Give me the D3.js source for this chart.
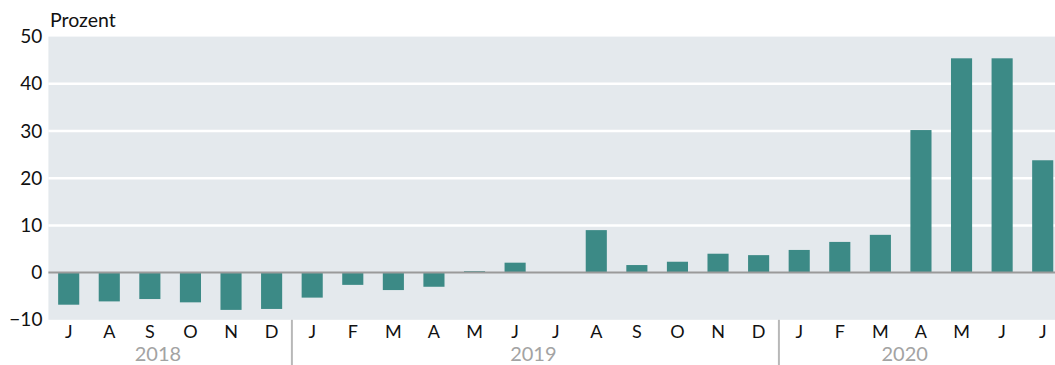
<!DOCTYPE html>
<html><head><meta charset="utf-8">
<script src="https://cdn.jsdelivr.net/npm/d3@7"></script>
<style>body{margin:0;background:#fff}svg{display:block;font-family:Lato,sans-serif}</style>
</head><body><svg id="c" width="1055" height="365"></svg>
<script>
const months = ["J","A","S","O","N","D","J","F","M","A","M","J","J","A","S","O","N","D","J","F","M","A","M","J","J"];
const values = [-6.8,-6.1,-5.6,-6.3,-7.9,-7.7,-5.3,-2.6,-3.7,-3.0,0.3,2.1,0,9.0,1.6,2.3,4.0,3.7,4.8,6.5,8.0,30.2,45.4,45.4,23.8];
const yearLabels = ["2018","2019","2020"];
const yearStarts = [0,6,18];
const yearLabelAt = [2.2,11.45,20.6];
const yTicks = [-10,0,10,20,30,40,50];

const svg = d3.select("#c");
const W = 1055;
const FONT = "Lato,sans-serif";
const idx = d3.range(months.length);
const x = d3.scaleBand().domain(idx).range([48.4,1063]).paddingInner(0.48).paddingOuter(0.24);
const y = d3.scaleLinear().domain([-10,50]).range([319.8,36.6]);
const xc = d3.scaleLinear().domain([0,1]).range([x(0)+x.bandwidth()/2, x(1)+x.bandwidth()/2]);

svg.append("rect").attr("x",48.4).attr("y",y(50)).attr("width",W-48.4).attr("height",y(-10)-y(50)).attr("fill","#e4e9ed");

svg.append("g").selectAll("line").data(yTicks.filter(d=>d>-10&&d<50&&d!==0)).join("line")
  .attr("x1",48.4).attr("x2",W).attr("y1",d=>y(d)).attr("y2",d=>y(d))
  .attr("stroke","#fff").attr("stroke-width",2.5);

svg.append("g").selectAll("rect").data(idx).join("rect")
  .attr("x",i=>x(i)).attr("width",x.bandwidth())
  .attr("y",i=>y(Math.max(0,values[i]))).attr("height",i=>Math.abs(y(values[i])-y(0)))
  .attr("fill","#3c8a86");

svg.append("line").attr("x1",48.4).attr("x2",W).attr("y1",y(0)).attr("y2",y(0)).attr("stroke","#9a9a9a").attr("stroke-width",2);

const yAxis = d3.axisLeft(y).tickValues(yTicks).tickSize(0).tickPadding(6).tickFormat(d=>d<0?"\u2212"+Math.abs(d):d);
const ga = svg.append("g").attr("transform","translate(48.4,0)").call(yAxis);
ga.select(".domain").remove();
ga.selectAll("text").attr("font-size",19).attr("fill","#111").attr("font-family",FONT);

const xAxis = d3.axisBottom(x).tickSize(0).tickPadding(5).tickFormat(i=>months[i]);
const gx = svg.append("g").attr("transform",`translate(0,${y(-10)})`).call(xAxis);
gx.select(".domain").remove();
gx.selectAll("text").attr("font-size",18).attr("fill","#111").attr("font-family",FONT);

const step = x.step();
const bx = i => x(i) - x.paddingInner()*step/2;
svg.append("g").selectAll("line").data(yearStarts.slice(1)).join("line")
  .attr("x1",d=>bx(d)).attr("x2",d=>bx(d)).attr("y1",y(-10)).attr("y2",365)
  .attr("stroke","#b8b8b8").attr("stroke-width",2);

svg.append("g").selectAll("text").data(yearLabels).join("text")
  .attr("x",(d,i)=>xc(yearLabelAt[i])).attr("y",360.5)
  .attr("text-anchor","middle").attr("font-size",20).attr("fill","#a3a3a3").attr("font-family",FONT).text(d=>d);

svg.append("text").attr("x",50).attr("y",27).attr("font-size",19.5).attr("fill","#111").attr("font-family",FONT).text("Prozent");
</script></body></html>
